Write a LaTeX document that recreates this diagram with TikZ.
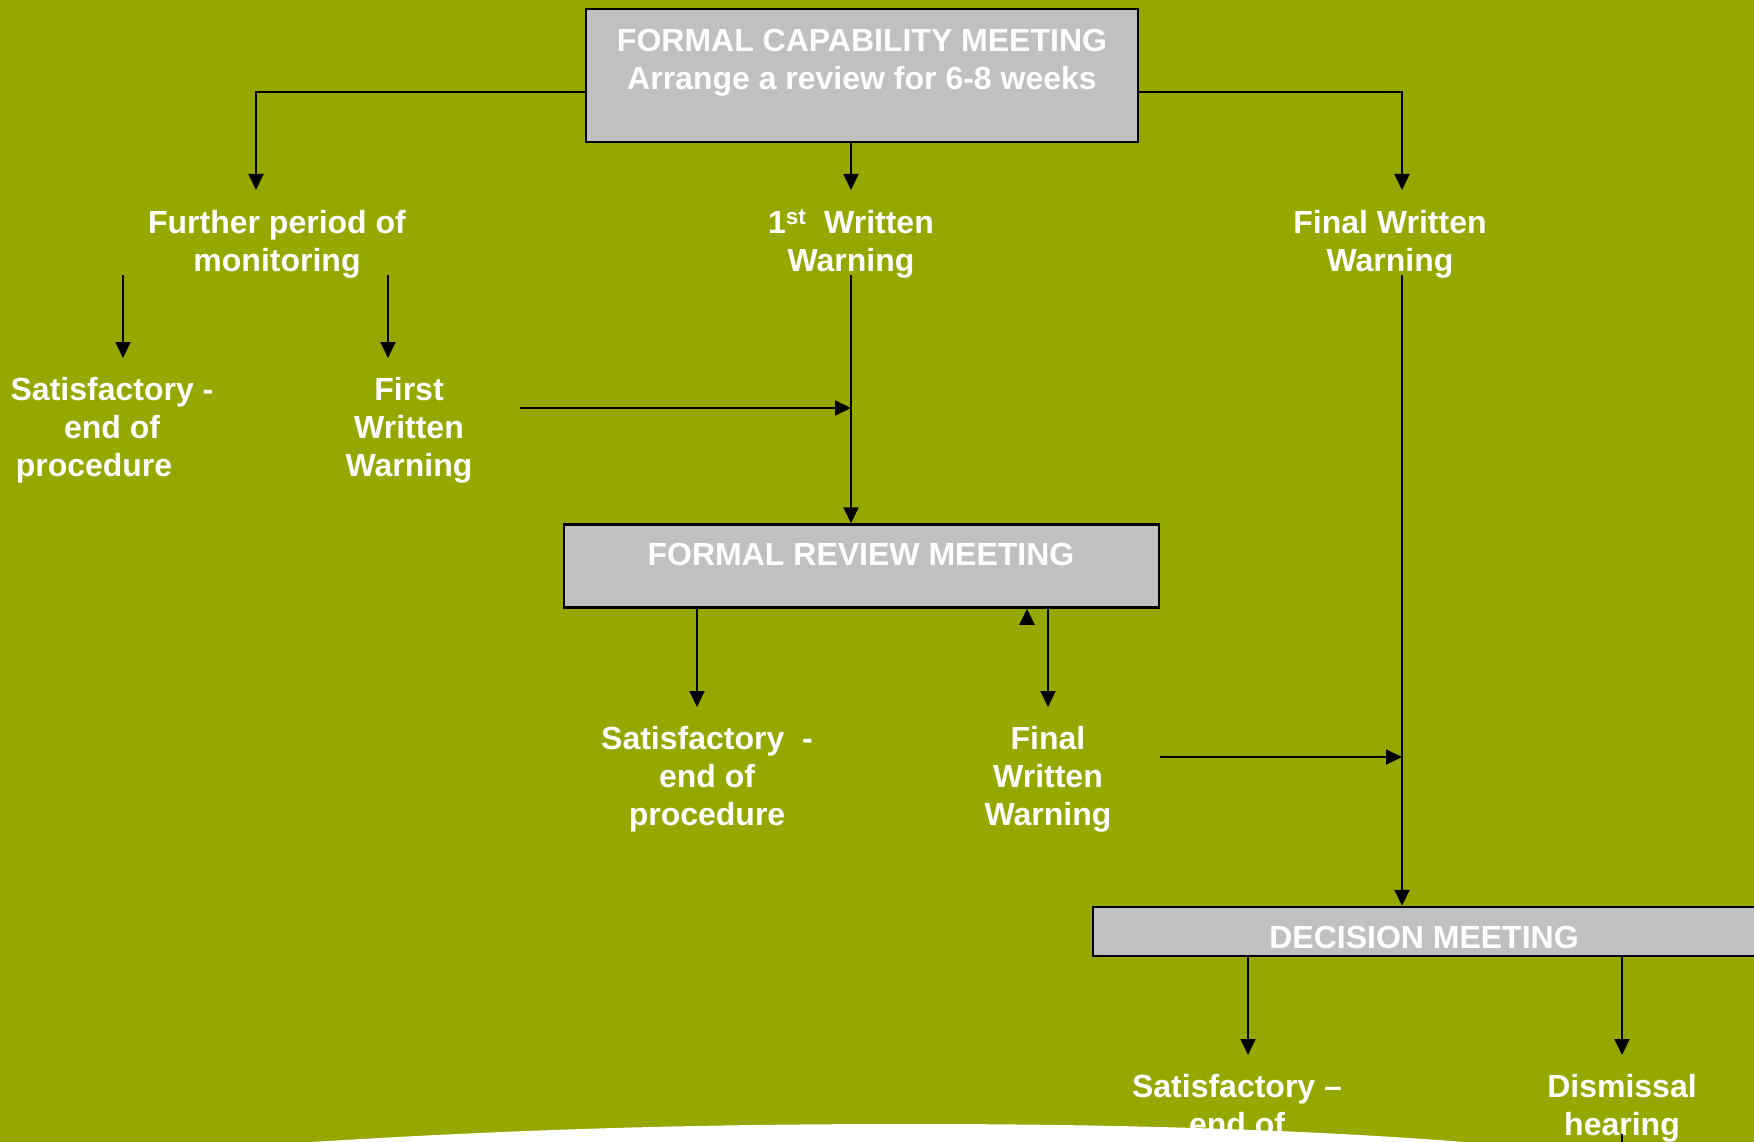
\documentclass[tikz,border=0pt]{standalone}
\usepackage{fontspec}
\setmainfont{Liberation Sans}
\usetikzlibrary{arrows.meta}
\definecolor{bg}{RGB}{150,168,0}
\definecolor{boxgray}{RGB}{192,192,192}
\begin{document}
\begin{tikzpicture}[x=1pt,y=-1pt,
  lab/.style={text=white, font=\fontsize{32}{38}\selectfont\bfseries, align=center, inner sep=0pt},
  mbox/.style={draw=black, line width=2.5pt, fill=boxgray, inner sep=0pt},
  arr/.style={line width=2pt, -{Triangle[width=15pt,length=16pt]}},
  con/.style={line width=2pt}]
\fill[bg] (0,0) rectangle (1754,1142);
\useasboundingbox (0,0) rectangle (1754,1142);
\clip (0,0) rectangle (1754,1142);

% boxes
\node[mbox, minimum width=552pt, minimum height=133pt] (fcm) at (862,75.5) {};
\node[lab] (fcmt) at (862,62.5) {FORMAL CAPABILITY MEETING\\Arrange a review for 6-8 weeks};
\node[mbox, minimum width=595pt, minimum height=83pt] (frm) at (861.5,566) {};
\node[lab] (frmt) at (861,554) {FORMAL REVIEW MEETING};
\node[mbox, minimum width=680pt, minimum height=49pt] (dm) at (1433,931.5) {};
\node[lab] (dmt) at (1424,937) {DECISION MEETING};

% labels
\node[lab] (monit) at (277,244) {Further period of\\monitoring};
\node[lab] (fww1) at (851,244) {1\textsuperscript{st}\ \ Written\\Warning};
\node[lab] (fwwR) at (1390,244) {Final Written\\Warning};
\node[lab] (sat1) at (112,430) {Satisfactory -\\end of\\procedure\hspace*{36pt}};
\node[lab] (fw1) at (409,430) {First\\Written\\Warning};
\node[lab] (sat2) at (707,779) {Satisfactory\ \ -\\end of\\procedure};
\node[lab] (fw2) at (1048,779) {Final\\Written\\Warning};
\node[lab] (sat3) at (1237,1105) {Satisfactory –\\end of};
\node[lab] (dism) at (1622,1108.5) {Dismissal\\hearing};

% coordinates
\coordinate (fcmrow) at (0,92);
\coordinate (tL) at (256,190);
\coordinate (tC) at (851,190);
\coordinate (tR) at (1402,190);
\coordinate (m1s) at (123,275);
\coordinate (m1e) at (123,358);
\coordinate (m2s) at (388,275);
\coordinate (m2e) at (388,358);
\coordinate (h1) at (520,408);
\coordinate (v1) at (851,275);
\coordinate (b1) at (697,707);
\coordinate (b2) at (1048,707);
\coordinate (up) at (1027,624);
\coordinate (h2) at (1160,757);
\coordinate (v2) at (1402,275);
\coordinate (d1) at (1248,1055);
\coordinate (d2) at (1622,1055);
\coordinate (d3) at (1622,1134);

% connectors
\draw[arr] (fcm.west |- fcmrow) -| (tL);
\draw[arr] (fcm.south -| tC) -- (tC);
\draw[arr] (fcm.east |- fcmrow) -| (tR);
\draw[arr] (m1s) -- (m1e);
\draw[arr] (m2s) -- (m2e);
\draw[arr] (h1) -- (h1 -| tC);
\draw[arr] (v1) -- (frm.north -| v1);
\draw[arr] (frm.south -| b1) -- (b1);
\draw[arr] (frm.south -| b2) -- (b2);
\draw[arr] (up) -- (frm.south -| up);
\draw[arr] (h2) -- (h2 -| tR);
\draw[arr] (v2) -- (dm.north -| v2);
\draw[arr] (dm.south -| d1) -- (d1);
\draw[arr] (dm.south -| d2) -- (d2);
\draw[con] (d3) -- ++(0,10);

% white curve at bottom
\fill[white] (296,1143) .. controls (560,1126) and (760,1124) .. (917,1124)
  .. controls (1120,1124) and (1320,1130) .. (1476,1143) -- cycle;
\end{tikzpicture}
\end{document}
